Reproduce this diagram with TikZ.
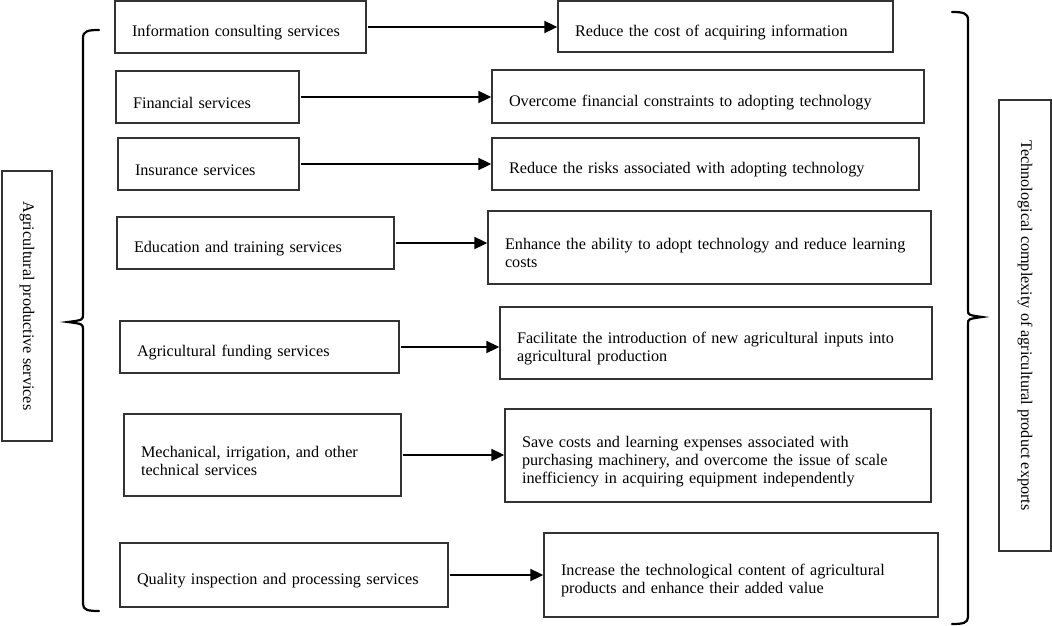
\documentclass[tikz,border=0pt]{standalone}
\usepackage{fontspec}
\setmainfont{Liberation Serif}
\usetikzlibrary{arrows.meta}
\hyphenpenalty=10000

\begin{document}
\begin{tikzpicture}[x=1pt, y=-1pt,
		box/.style={draw=black!80, line width=1.4pt, align=left, inner xsep=17pt, inner ysep=0pt, font=\fontsize{16.2}{18}\selectfont, execute at begin node={\rule{0pt}{23pt}}},
		side/.style={draw=black!80, line width=1.4pt, rotate=-90, inner sep=0pt, font=\fontsize{16.2}{18}\selectfont},
		link/.style={line width=2pt, shorten <=1pt, -{Triangle[length=13pt, width=12pt]}},
		bracket/.style={line width=2.2pt, line cap=round}]
		\useasboundingbox (0,0) rectangle (1052,626);
		% services
		\node [box, text width=217pt, minimum height=52pt] (s1) at (240.5,27) {Information consulting services};
		\node [box, text width=149pt, minimum height=52pt] (s2) at (207.5,97) {Financial services};
		\node [box, text width=147pt, minimum height=52pt] (s3) at (208.5,164) {Insurance services};
		\node [box, text width=243pt, minimum height=52pt] (s4) at (255.5,243) {Education and training services};
		\node [box, text width=245pt, minimum height=52pt] (s5) at (259.5,347) {Agricultural funding services};
		\node [box, text width=243pt, minimum height=82pt] (s6) at (262.5,455) {Mechanical, irrigation, and other\\technical services};
		\node [box, text width=294pt, minimum height=64pt] (s7) at (284,575) {Quality inspection and processing services};
		% effects
		\node [box, text width=301pt, minimum height=51pt] (e1) at (725.5,26.5) {Reduce the cost of acquiring information};
		\node [box, text width=398pt, minimum height=53pt] (e2) at (708,96.5) {Overcome financial constraints to adopting technology};
		\node [box, text width=393pt, minimum height=52pt] (e3) at (705.5,164) {Reduce the risks associated with adopting technology};
		\node [box, text width=409pt, minimum height=73pt] (e4) at (709.5,247.5) {Enhance the ability to adopt technology and reduce learning\\costs};
		\node [box, text width=398pt, minimum height=72pt] (e5) at (716,343) {Facilitate the introduction of new agricultural inputs into\\agricultural production};
		\node [box, text width=392pt, minimum height=93pt] (e6) at (718,455.5) {Save costs and learning expenses associated with\\purchasing machinery, and overcome the issue of scale\\inefficiency in acquiring equipment independently};
		\node [box, text width=360pt, minimum height=84pt] (e7) at (741,575) {Increase the technological content of agricultural\\products and enhance their added value};
		% sides
		\node [side, minimum width=270pt, minimum height=50pt] (aps) at (27,306) {Agricultural productive services};
		\node [side, minimum width=451pt, minimum height=52pt] (tc) at (1025,325.5) {Technological complexity of agricultural product exports};
		% arrows
		\draw [link] (s1.east) -- (s1.east -| e1.west);
		\draw [link] (s2.east) -- (s2.east -| e2.west);
		\draw [link] (s3.east) -- (s3.east -| e3.west);
		\draw [link] (s4.east) -- (s4.east -| e4.west);
		\draw [link] (s5.east) -- (s5.east -| e5.west);
		\draw [link] (s6.east) -- (s6.east -| e6.west);
		\draw [link] (s7.east) -- (s7.east -| e7.west);
		% brackets
		\draw [bracket] (99,30) .. controls (88,30) and (83,31) .. (83,38) -- (83,314)
			.. controls (83,320) .. (68,322) .. controls (83,324) .. (83,330) -- (83,604)
			.. controls (83,610) and (88,611) .. (99,611);
		\draw [bracket] (952,12) .. controls (963,12) and (968,13) .. (968,20) -- (968,310)
			.. controls (968,315) .. (982,317) .. controls (968,319) .. (968,324) -- (968,617)
			.. controls (968,623) and (963,624) .. (952,624);
\end{tikzpicture}
\end{document}
